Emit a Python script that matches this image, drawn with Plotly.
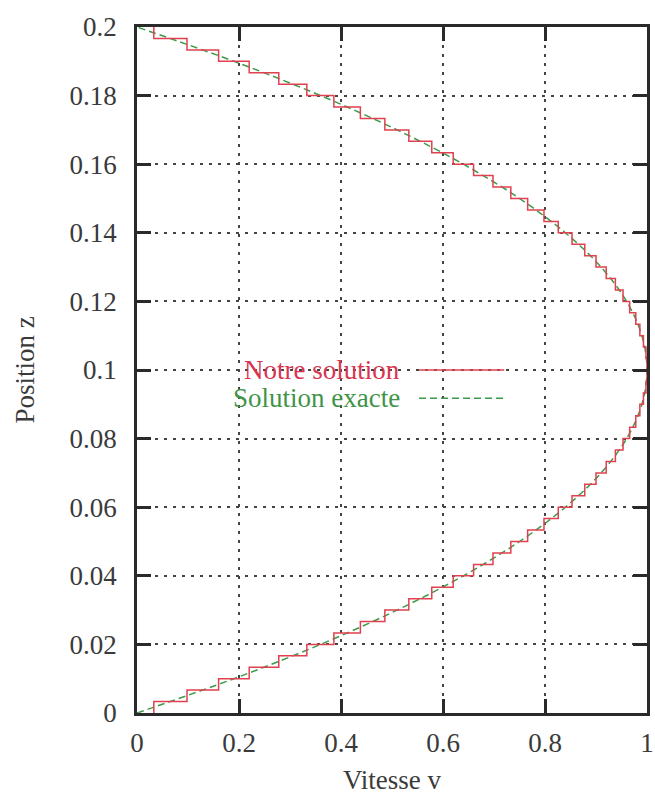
import plotly.graph_objects as go

# cell boundaries in z (60 cells)
z_edges = [0.0, 0.00333, 0.00667, 0.01, 0.01333, 0.01667, 0.02, 0.02333, 0.02667, 0.03,
           0.03333, 0.03667, 0.04, 0.04333, 0.04667, 0.05, 0.05333, 0.05667, 0.06, 0.06333,
           0.06667, 0.07, 0.07333, 0.07667, 0.08, 0.08333, 0.08667, 0.09, 0.09333, 0.09667,
           0.1, 0.10333, 0.10667, 0.11, 0.11333, 0.11667, 0.12, 0.12333, 0.12667, 0.13,
           0.13333, 0.13667, 0.14, 0.14333, 0.14667, 0.15, 0.15333, 0.15667, 0.16, 0.16333,
           0.16667, 0.17, 0.17333, 0.17667, 0.18, 0.18333, 0.18667, 0.19, 0.19333, 0.19667, 0.2]

# "Notre solution": velocity per cell (step profile)
v_cells = [0.033, 0.098, 0.160, 0.220, 0.278, 0.333, 0.386, 0.438, 0.486, 0.533,
           0.578, 0.620, 0.660, 0.698, 0.733, 0.766, 0.798, 0.826, 0.853, 0.878,
           0.900, 0.920, 0.938, 0.953, 0.966, 0.978, 0.986, 0.993, 0.998, 1.000,
           1.000, 0.998, 0.993, 0.986, 0.978, 0.966, 0.953, 0.938, 0.920, 0.900,
           0.878, 0.853, 0.826, 0.798, 0.766, 0.733, 0.698, 0.660, 0.620, 0.578,
           0.533, 0.486, 0.438, 0.386, 0.333, 0.278, 0.220, 0.160, 0.098, 0.033]

# "Solution exacte"
z_exact = [0.0, 0.01, 0.02, 0.03, 0.04, 0.05, 0.06, 0.07, 0.08, 0.09, 0.1,
           0.11, 0.12, 0.13, 0.14, 0.15, 0.16, 0.17, 0.18, 0.19, 0.2]
v_exact = [0.0, 0.19, 0.36, 0.51, 0.64, 0.75, 0.84, 0.91, 0.96, 0.99, 1.0,
           0.99, 0.96, 0.91, 0.84, 0.75, 0.64, 0.51, 0.36, 0.19, 0.0]

x_ticks = [0, 0.2, 0.4, 0.6, 0.8, 1]
x_tick_text = ["0", "0.2", "0.4", "0.6", "0.8", "1"]
y_ticks = [0, 0.02, 0.04, 0.06, 0.08, 0.1, 0.12, 0.14, 0.16, 0.18, 0.2]
y_tick_text = ["0", "0.02", "0.04", "0.06", "0.08", "0.1", "0.12", "0.14", "0.16", "0.18", "0.2"]

RED = "#e0404f"
GREEN = "#3d9a4a"
FONT = "Liberation Serif"
TXT = "#3a3a3a"
FS = 27

step_x = v_cells + [v_cells[-1]]
step_y = z_edges

fig = go.Figure()
fig.add_trace(go.Scatter(x=v_exact, y=z_exact, mode="lines",
                         line=dict(color=GREEN, width=1.5, dash="7px,4px", shape="spline"),
                         showlegend=False))
fig.add_trace(go.Scatter(x=step_x, y=step_y, mode="lines", line=dict(color=RED, width=1.5, shape="vh"),
                         showlegend=False))

axis_common = dict(showline=True, linecolor="#2a2a2a", linewidth=2.5, mirror="ticks",
                   ticks="inside", ticklen=14, tickwidth=3, tickcolor="#2a2a2a",
                   showgrid=True, gridcolor="#444444", gridwidth=1.8, griddash="3px,6px",
                   zeroline=False, tickfont=dict(family=FONT, size=FS, color=TXT),
                   ticklabeloverflow="allow", automargin=False)

fig.update_xaxes(range=[0, 1], tickvals=x_ticks, ticktext=x_tick_text, ticklabelstandoff=4,
                 title=dict(text="Vitesse v", font=dict(family=FONT, size=FS, color=TXT), standoff=14),
                 **axis_common)
fig.update_yaxes(range=[0, 0.2], tickvals=y_ticks, ticktext=y_tick_text, ticklabelstandoff=12,
                 title=dict(text="Position z", font=dict(family=FONT, size=FS, color=TXT), standoff=28),
                 **axis_common)

# legend box (gnuplot-style: text then line sample)
fig.add_shape(type="rect", xref="paper", yref="paper", x0=0.17, x1=0.745, y0=0.433, y1=0.522,
              fillcolor="white", line=dict(width=0), layer="between")
fig.add_annotation(xref="paper", yref="paper", x=0.52, y=0.5, text="Notre solution", showarrow=False,
                   xanchor="right", yanchor="middle", font=dict(family=FONT, size=FS, color="#d8344f"))
fig.add_annotation(xref="paper", yref="paper", x=0.52, y=0.459, text="Solution exacte", showarrow=False,
                   xanchor="right", yanchor="middle", font=dict(family=FONT, size=FS, color="#3f9448"))
fig.add_shape(type="line", xref="paper", yref="paper", x0=0.553, x1=0.72, y0=0.5, y1=0.5,
              line=dict(color=RED, width=1.5))
fig.add_shape(type="line", xref="paper", yref="paper", x0=0.553, x1=0.72, y0=0.459, y1=0.459,
              line=dict(color=GREEN, width=1.5, dash="7px,4px"))

fig.update_layout(width=655, height=795, margin=dict(l=137, r=8, t=27, b=82, autoexpand=False),
                  plot_bgcolor="white", paper_bgcolor="white", showlegend=False)

fig.write_html("out.html")
